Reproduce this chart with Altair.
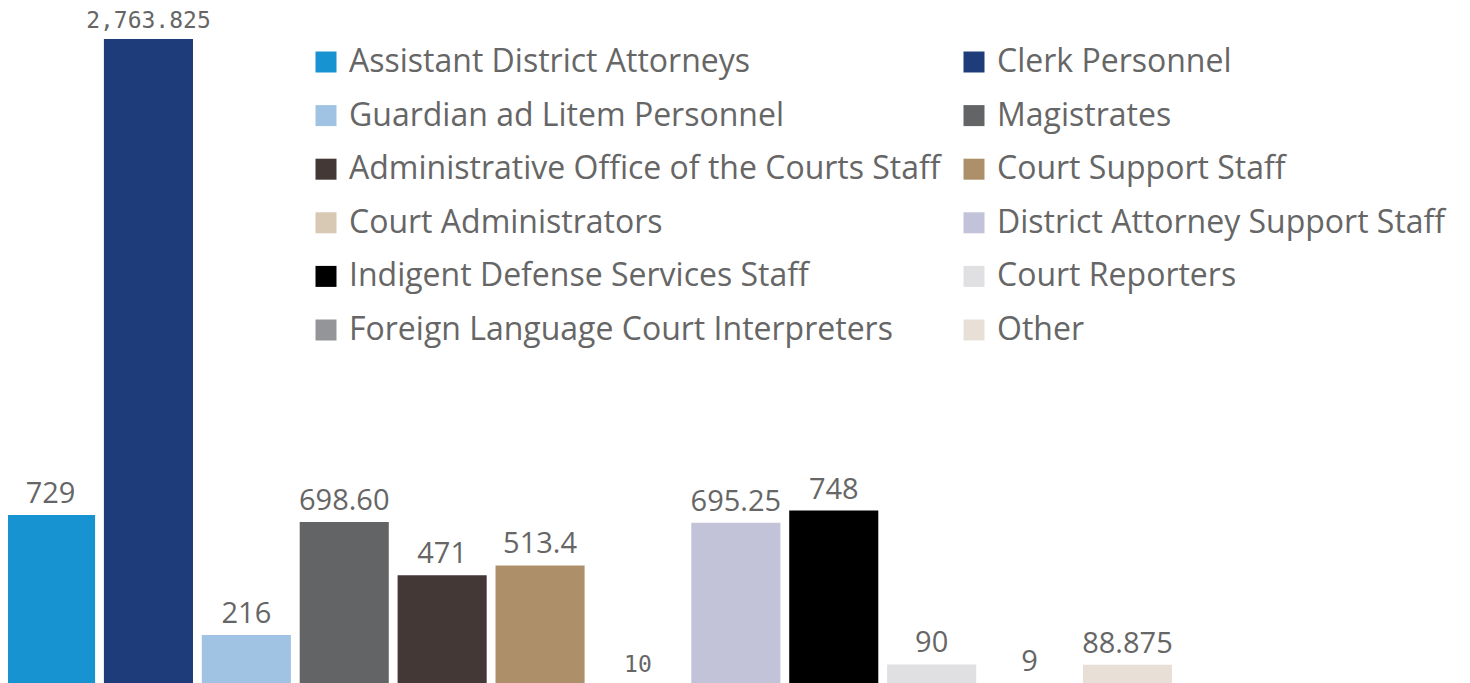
import altair as alt
import pandas as pd

categories = [
    "Assistant District Attorneys",
    "Clerk Personnel",
    "Guardian ad Litem Personnel",
    "Magistrates",
    "Administrative Office of the Courts Staff",
    "Court Support Staff",
    "Court Administrators",
    "District Attorney Support Staff",
    "Indigent Defense Services Staff",
    "Court Reporters",
    "Foreign Language Court Interpreters",
    "Other",
]
values = [729, 2763.825, 216, 698.60, 471, 513.4, 10, 695.25, 748, 90, 9, 88.875]
labels = ["729", "2,763.825", "216", "698.60", "471", "513.4", "10",
          "695.25", "748", "90", "9", "88.875"]
alt_font = [False, True, False, False, False, False, True,
            False, False, False, False, False]
colors = ["#1793D1", "#1F3C7A", "#A0C3E3", "#636466", "#433836", "#AD906A",
          "#D7C9B3", "#C2C3D8", "#000000", "#E0E0E2", "#939598", "#E8E0D6"]

df = pd.DataFrame({"category": categories, "value": values,
                   "label": labels, "alt": alt_font})

# legend fills column by column: reorder so it reads row by row in two columns
legend_order = categories[0::2] + categories[1::2]
legend_colors = colors[0::2] + colors[1::2]

x = alt.X("category:N", sort=categories, axis=None,
          scale=alt.Scale(range=[-2, 1164], paddingInner=0.09, paddingOuter=0,
                          round=False))
y = alt.Y("value:Q", axis=None,
          scale=alt.Scale(domain=[0, 2896], nice=False, zero=True))

bars = alt.Chart(df).mark_bar().encode(
    x=x, y=y,
    color=alt.Color("category:N",
                    scale=alt.Scale(domain=legend_order, range=legend_colors),
                    legend=alt.Legend(orient="none", legendX=302, legendY=38,
                                      columns=2, title=None,
                                      symbolType="square", symbolSize=441,
                                      symbolStrokeWidth=0,
                                      labelFont="Open Sans", labelFontSize=32,
                                      labelColor="#666666", labelLimit=900,
                                      labelOffset=7, rowPadding=21.6,
                                      columnPadding=17)),
)

txt_main = alt.Chart(df).transform_filter("!datum.alt").mark_text(
    baseline="alphabetic", dy=-12, font="Open Sans", fontSize=29, color="#666666"
).encode(x=x, y=y, text="label:N")

txt_alt = alt.Chart(df).transform_filter("datum.alt").mark_text(
    baseline="alphabetic", dy=-11, font="DejaVu Sans Mono", fontSize=23, color="#666666"
).encode(x=x, y=y, text="label:N")

chart = alt.layer(bars, txt_main, txt_alt).properties(
    width=1454, height=677.5, padding=0, background="white",
    autosize=alt.AutoSizeParams(type="none"),
).configure_view(stroke=None)

chart.save("out.html", embed_options={"renderer": "svg", "actions": False})
